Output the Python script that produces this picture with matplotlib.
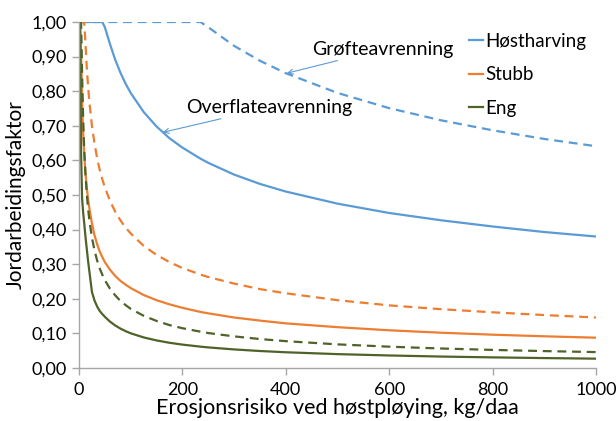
import matplotlib
matplotlib.use("Agg")
import matplotlib.pyplot as plt
from matplotlib.ticker import FuncFormatter, MultipleLocator

plt.rcParams['font.family'] = ['Lato', 'DejaVu Sans']

# Erosion risk (kg/daa)
x = [0, 2, 4, 6, 8, 10, 12.5, 15, 17.5, 20, 25, 30, 35, 40, 45, 50, 60, 70, 80, 90, 100,
     125, 150, 175, 200, 235, 250, 300, 350, 400, 500, 600, 700, 800, 900, 1000]

# Overflateavrenning (solid)
host_overflate = [1.0, 1.0, 1.0, 1.0, 1.0, 1.0, 1.0, 1.0, 1.0, 1.0, 1.0, 1.0, 1.0, 1.0, 1.0, 0.985, 0.936, 0.891, 0.854, 0.822, 0.795,
                  0.740, 0.698, 0.664, 0.637, 0.605, 0.593, 0.559, 0.532, 0.510, 0.475, 0.448, 0.427, 0.409, 0.393, 0.380]
stubb_overflate = [1.0, 1.0, 0.916, 0.770, 0.682, 0.620, 0.564, 0.522, 0.489, 0.462, 0.418, 0.384, 0.358, 0.337, 0.321, 0.306, 0.284, 0.266, 0.252, 0.241, 0.231,
                   0.211, 0.196, 0.184, 0.174, 0.162, 0.158, 0.146, 0.137, 0.129, 0.118, 0.109, 0.102, 0.0963, 0.0916, 0.0876]
eng_overflate = [1.0, 1.0, 0.62, 0.49, 0.45, 0.42, 0.38, 0.345, 0.31, 0.28, 0.22, 0.195, 0.178, 0.165, 0.156, 0.148, 0.134, 0.123, 0.114, 0.1066, 0.1003,
                 0.0884, 0.0797, 0.0729, 0.0676, 0.0617, 0.0595, 0.0537, 0.0491, 0.0455, 0.0401, 0.0362, 0.0331, 0.0307, 0.0287, 0.0270]

# Grøfteavrenning (dashed)
host_grofte = [1.0] * 26 + [0.985, 0.931, 0.888, 0.852, 0.795, 0.751, 0.716, 0.687, 0.662, 0.641]
stubb_grofte = [1.0, 1.0, 1.0, 1.0, 1.0, 1.0, 0.940, 0.870, 0.815, 0.770, 0.700, 0.649, 0.607, 0.573, 0.546, 0.522, 0.483, 0.452, 0.427, 0.406, 0.389,
                0.353, 0.327, 0.306, 0.289, 0.270, 0.263, 0.244, 0.228, 0.216, 0.196, 0.181, 0.170, 0.161, 0.153, 0.146]
eng_grofte = [1.0, 1.0, 1.0, 0.850, 0.722, 0.635, 0.559, 0.504, 0.462, 0.428, 0.377, 0.340, 0.311, 0.288, 0.270, 0.254, 0.229, 0.210, 0.194, 0.182, 0.171,
              0.151, 0.136, 0.124, 0.115, 0.105, 0.101, 0.0914, 0.0837, 0.0776, 0.0683, 0.0616, 0.0564, 0.0523, 0.0489, 0.0460]

labels = ['Høstharving', 'Stubb', 'Eng']
colors = ['#5B9BD5', '#ED7D31', '#4F6228']

x_ticks = [0, 200, 400, 600, 800, 1000]

fig = plt.figure(figsize=(6.16, 4.21), dpi=100)
ax = fig.add_axes([79/616, 1-368/421, (596-79)/616, (368-22)/421])

lw = 1.6
for ys, lab, c in zip([host_overflate, stubb_overflate, eng_overflate], labels, colors):
    ax.plot(x, ys, color=c, lw=lw, label=lab, solid_joinstyle='round')
for ys, c in zip([host_grofte, stubb_grofte, eng_grofte], colors):
    ax.plot(x, ys, color=c, lw=lw, dashes=(4, 2.6))

ax.set_xlim(0, 1000)
ax.set_ylim(0, 1.0)
ax.set_xticks(x_ticks)
ax.set_xticklabels([str(t) for t in x_ticks])
ax.yaxis.set_major_locator(MultipleLocator(0.1))
ax.yaxis.set_major_formatter(FuncFormatter(lambda v, p: f"{v:.2f}".replace('.', ',')))

for s in ['top', 'right']:
    ax.spines[s].set_visible(False)
for s in ['left', 'bottom']:
    ax.spines[s].set_color('#A6A6A6')
    ax.spines[s].set_linewidth(1.0)
ax.tick_params(axis='both', colors='#A6A6A6', labelcolor='black', length=5, width=1.0,
               labelsize=13, direction='out')
ax.tick_params(axis='x', pad=5)
ax.tick_params(axis='y', pad=4)

ax.set_xlabel('Erosjonsrisiko ved høstpløying, kg/daa', fontsize=15.5, labelpad=0)
ax.set_ylabel('Jordarbeidingsfaktor', fontsize=15, labelpad=4)

arrow = dict(arrowstyle='->', color='#5B9BD5', lw=0.8, shrinkA=0, shrinkB=0, mutation_scale=9)
ax.annotate('Grøfteavrenning', xy=(402, 0.852), xytext=(451, 0.921),
            fontsize=14, ha='left', va='center', arrowprops=arrow)
ax.annotate('Overflateavrenning', xy=(162, 0.681), xytext=(207, 0.753),
            fontsize=14, ha='left', va='center', arrowprops=arrow)

leg = ax.legend(loc='upper left', bbox_to_anchor=(0.739, 0.99), frameon=False, fontsize=13.5,
                handlelength=0.75, handletextpad=0.15, labelspacing=0.88, borderaxespad=0)
for h in leg.get_lines():
    h.set_linewidth(1.6)

fig.savefig('out.png', dpi=100)
